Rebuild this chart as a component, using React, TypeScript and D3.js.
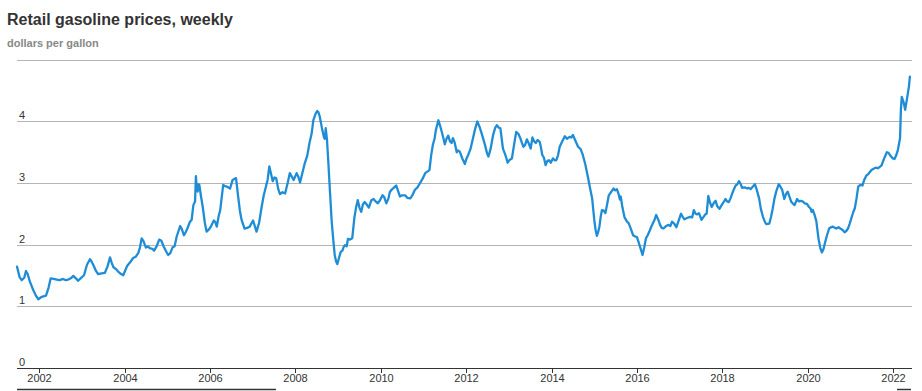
import React from 'react';
import * as d3 from 'd3';

// weekly readings, as decimal years
const dates = [
  2001.48, 2001.54, 2001.59, 2001.65, 2001.69, 2001.73, 2001.78, 2001.86, 2001.93, 2001.98,
  2002.06, 2002.16, 2002.22, 2002.27, 2002.34, 2002.41, 2002.48, 2002.56, 2002.62, 2002.68,
  2002.74, 2002.80, 2002.86, 2002.91, 2002.97, 2003.05, 2003.12, 2003.19, 2003.23, 2003.28,
  2003.33, 2003.38, 2003.46, 2003.54, 2003.60, 2003.66, 2003.70, 2003.74, 2003.80, 2003.85,
  2003.92, 2003.97, 2004.06, 2004.13, 2004.20, 2004.26, 2004.32, 2004.36, 2004.40, 2004.44,
  2004.50, 2004.55, 2004.59, 2004.65, 2004.69, 2004.75, 2004.81, 2004.86, 2004.92, 2004.97,
  2005.02, 2005.07, 2005.12, 2005.17, 2005.22, 2005.30, 2005.34, 2005.39, 2005.43, 2005.47,
  2005.53, 2005.57, 2005.61, 2005.65, 2005.67, 2005.69, 2005.71, 2005.73, 2005.75, 2005.79,
  2005.83, 2005.88, 2005.92, 2005.97, 2006.02, 2006.06, 2006.09, 2006.12, 2006.16, 2006.20,
  2006.24, 2006.28, 2006.31, 2006.35, 2006.40, 2006.47, 2006.53, 2006.61, 2006.66, 2006.70,
  2006.74, 2006.81, 2006.87, 2006.93, 2007.01, 2007.05, 2007.09, 2007.15, 2007.21, 2007.26,
  2007.31, 2007.35, 2007.39, 2007.43, 2007.47, 2007.51, 2007.55, 2007.60, 2007.64, 2007.70,
  2007.76, 2007.82, 2007.87, 2007.92, 2007.96, 2008.03, 2008.07, 2008.11, 2008.16, 2008.22,
  2008.28, 2008.33, 2008.38, 2008.42, 2008.47, 2008.51, 2008.54, 2008.57, 2008.62, 2008.67,
  2008.69, 2008.71, 2008.74, 2008.77, 2008.81, 2008.85, 2008.89, 2008.92, 2008.95, 2008.98,
  2009.02, 2009.06, 2009.10, 2009.13, 2009.16, 2009.20, 2009.23, 2009.28, 2009.33, 2009.38,
  2009.42, 2009.46, 2009.50, 2009.54, 2009.58, 2009.62, 2009.67, 2009.72, 2009.78, 2009.83,
  2009.88, 2009.93, 2009.98, 2010.04, 2010.08, 2010.13, 2010.18, 2010.21, 2010.25, 2010.30,
  2010.36, 2010.40, 2010.45, 2010.50, 2010.57, 2010.62, 2010.69, 2010.74, 2010.80, 2010.86,
  2010.92, 2010.98, 2011.04, 2011.10, 2011.14, 2011.18, 2011.22, 2011.26, 2011.29, 2011.35,
  2011.39, 2011.43, 2011.47, 2011.50, 2011.54, 2011.58, 2011.62, 2011.66, 2011.69, 2011.73,
  2011.78, 2011.81, 2011.85, 2011.91, 2011.97, 2012.01, 2012.05, 2012.10, 2012.15, 2012.21,
  2012.26, 2012.31, 2012.36, 2012.44, 2012.49, 2012.52, 2012.57, 2012.63, 2012.68, 2012.72,
  2012.76, 2012.80, 2012.86, 2012.92, 2012.97, 2013.02, 2013.07, 2013.12, 2013.17, 2013.22,
  2013.26, 2013.30, 2013.34, 2013.38, 2013.42, 2013.46, 2013.51, 2013.55, 2013.59, 2013.63,
  2013.67, 2013.72, 2013.75, 2013.78, 2013.82, 2013.86, 2013.90, 2013.94, 2013.98, 2014.03,
  2014.07, 2014.11, 2014.15, 2014.19, 2014.25, 2014.31, 2014.36, 2014.42, 2014.46, 2014.50,
  2014.55, 2014.62, 2014.68, 2014.73, 2014.79, 2014.85, 2014.90, 2014.95, 2015.00, 2015.03,
  2015.06, 2015.09, 2015.12, 2015.15, 2015.18, 2015.22, 2015.26, 2015.30, 2015.34, 2015.40,
  2015.45, 2015.49, 2015.53, 2015.57, 2015.60, 2015.62, 2015.66, 2015.71, 2015.76, 2015.81,
  2015.86, 2015.91, 2015.96, 2016.00, 2016.06, 2016.10, 2016.13, 2016.17, 2016.21, 2016.25,
  2016.29, 2016.33, 2016.37, 2016.41, 2016.45, 2016.50, 2016.54, 2016.58, 2016.62, 2016.68,
  2016.74, 2016.78, 2016.82, 2016.87, 2016.92, 2016.97, 2017.03, 2017.07, 2017.11, 2017.17,
  2017.24, 2017.29, 2017.33, 2017.37, 2017.41, 2017.45, 2017.51, 2017.55, 2017.60, 2017.63,
  2017.67, 2017.71, 2017.75, 2017.80, 2017.84, 2017.88, 2017.93, 2018.00, 2018.04, 2018.07,
  2018.11, 2018.15, 2018.19, 2018.23, 2018.27, 2018.31, 2018.35, 2018.39, 2018.43, 2018.46,
  2018.52, 2018.58, 2018.62, 2018.66, 2018.71, 2018.76, 2018.80, 2018.86, 2018.90, 2018.95,
  2019.00, 2019.03, 2019.10, 2019.14, 2019.18, 2019.22, 2019.26, 2019.32, 2019.36, 2019.40,
  2019.45, 2019.49, 2019.53, 2019.57, 2019.61, 2019.66, 2019.69, 2019.75, 2019.79, 2019.83,
  2019.88, 2019.93, 2019.98, 2020.03, 2020.07, 2020.09, 2020.12, 2020.16, 2020.20, 2020.25,
  2020.29, 2020.33, 2020.37, 2020.40, 2020.45, 2020.50, 2020.54, 2020.59, 2020.63, 2020.67,
  2020.72, 2020.76, 2020.81, 2020.86, 2020.90, 2020.94, 2020.98, 2021.02, 2021.06, 2021.10,
  2021.14, 2021.18, 2021.23, 2021.28, 2021.32, 2021.37, 2021.42, 2021.49, 2021.54, 2021.59,
  2021.64, 2021.70, 2021.73, 2021.76, 2021.80, 2021.85, 2021.89, 2021.95, 2021.99, 2022.03,
  2022.07, 2022.11, 2022.16, 2022.18, 2022.20, 2022.24, 2022.28, 2022.33, 2022.37, 2022.39,
];

// dollars per gallon
const prices = [
  1.64, 1.47, 1.42, 1.46, 1.57, 1.52, 1.40, 1.26, 1.16, 1.11,
  1.15, 1.17, 1.30, 1.45, 1.44, 1.43, 1.42, 1.44, 1.42, 1.43,
  1.45, 1.49, 1.45, 1.41, 1.45, 1.50, 1.67, 1.76, 1.72, 1.65,
  1.57, 1.52, 1.53, 1.54, 1.64, 1.79, 1.70, 1.63, 1.60, 1.56,
  1.52, 1.50, 1.65, 1.71, 1.78, 1.80, 1.86, 1.95, 2.10, 2.06,
  1.95, 1.97, 1.94, 1.93, 1.90, 1.97, 2.08, 2.06, 1.96, 1.89,
  1.83, 1.86, 1.95, 1.97, 2.13, 2.30, 2.25, 2.15, 2.20, 2.26,
  2.37, 2.40, 2.64, 2.70, 3.11, 2.90, 2.86, 2.98, 2.97, 2.78,
  2.61, 2.35, 2.21, 2.24, 2.29, 2.35, 2.39, 2.37, 2.29, 2.45,
  2.56, 2.80, 2.97, 2.95, 2.94, 2.91, 3.05, 3.08, 2.78, 2.55,
  2.40, 2.26, 2.27, 2.29, 2.39, 2.30, 2.21, 2.35, 2.61, 2.80,
  2.94, 3.05, 3.27, 3.15, 3.03, 3.09, 3.08, 2.90, 2.82, 2.85,
  2.83, 3.00, 3.16, 3.10, 3.05, 3.16, 3.10, 3.01, 3.15, 3.32,
  3.45, 3.65, 3.80, 4.02, 4.12, 4.17, 4.15, 4.08, 3.90, 3.74,
  3.72, 3.89, 3.70, 3.35, 2.85, 2.37, 2.05, 1.83, 1.73, 1.68,
  1.78, 1.88, 1.90, 1.96, 1.99, 1.97, 2.09, 2.08, 2.10, 2.43,
  2.60, 2.72, 2.60, 2.53, 2.65, 2.69, 2.65, 2.60, 2.72, 2.74,
  2.70, 2.67, 2.72, 2.80, 2.77, 2.67, 2.75, 2.85, 2.89, 2.92,
  2.96, 2.88, 2.78, 2.80, 2.80, 2.76, 2.75, 2.80, 2.89, 2.93,
  3.00, 3.07, 3.16, 3.19, 3.21, 3.45, 3.62, 3.72, 3.86, 4.02,
  3.93, 3.83, 3.72, 3.63, 3.72, 3.77, 3.68, 3.65, 3.73, 3.66,
  3.50, 3.53, 3.51, 3.40, 3.31, 3.40, 3.46, 3.55, 3.70, 3.88,
  4.00, 3.92, 3.81, 3.62, 3.48, 3.43, 3.55, 3.78, 3.90, 3.94,
  3.90, 3.89, 3.56, 3.45, 3.33, 3.38, 3.40, 3.62, 3.83, 3.80,
  3.74, 3.66, 3.59, 3.62, 3.71, 3.65, 3.56, 3.74, 3.68, 3.65,
  3.70, 3.67, 3.58, 3.46, 3.41, 3.29, 3.36, 3.37, 3.33, 3.40,
  3.37, 3.37, 3.45, 3.59, 3.68, 3.76, 3.72, 3.75, 3.74, 3.78,
  3.70, 3.59, 3.55, 3.46, 3.30, 3.10, 2.92, 2.75, 2.40, 2.24,
  2.14, 2.20, 2.29, 2.45, 2.56, 2.55, 2.51, 2.65, 2.80, 2.86,
  2.91, 2.88, 2.90, 2.82, 2.73, 2.78, 2.60, 2.44, 2.38, 2.34,
  2.25, 2.15, 2.13, 2.12, 1.99, 1.90, 1.83, 1.95, 2.10, 2.15,
  2.21, 2.28, 2.34, 2.40, 2.48, 2.40, 2.32, 2.27, 2.26, 2.30,
  2.32, 2.30, 2.37, 2.34, 2.28, 2.38, 2.50, 2.45, 2.41, 2.43,
  2.45, 2.44, 2.56, 2.50, 2.49, 2.51, 2.40, 2.44, 2.49, 2.50,
  2.79, 2.68, 2.61, 2.68, 2.71, 2.62, 2.58, 2.66, 2.70, 2.74,
  2.70, 2.69, 2.75, 2.83, 2.90, 2.96, 2.98, 3.03, 2.98, 2.92,
  2.93, 2.91, 2.92, 2.90, 2.94, 2.98, 2.90, 2.75, 2.58, 2.45,
  2.36, 2.33, 2.34, 2.45, 2.59, 2.75, 2.86, 2.98, 2.94, 2.89,
  2.74, 2.82, 2.86, 2.78, 2.70, 2.66, 2.64, 2.74, 2.70, 2.71,
  2.70, 2.67, 2.66, 2.61, 2.58, 2.53, 2.56, 2.48, 2.38, 2.10,
  1.95, 1.87, 1.93, 2.02, 2.15, 2.26, 2.28, 2.29, 2.27, 2.26,
  2.28, 2.26, 2.24, 2.20, 2.22, 2.26, 2.34, 2.43, 2.52, 2.59,
  2.75, 2.94, 2.97, 2.96, 3.05, 3.12, 3.15, 3.21, 3.23, 3.25,
  3.24, 3.27, 3.29, 3.35, 3.42, 3.50, 3.49, 3.43, 3.40, 3.39,
  3.45, 3.54, 3.73, 4.20, 4.40, 4.32, 4.19, 4.40, 4.58, 4.73,
];

const yTicks = [0, 1, 2, 3, 4, 5];
const yLabels = ['0', '1', '2', '3', '4', ''];

const title = 'Retail gasoline prices, weekly';
const subtitle = 'dollars per gallon';

function decToDate(v: number) {
  const yr = Math.floor(v);
  const start = Date.UTC(yr, 0, 1);
  const end = Date.UTC(yr + 1, 0, 1);
  return new Date(start + (v - yr) * (end - start));
}

export default function App() {
  const width = 922, height = 391;
  const left = 17, right = 912;
  const font = "'Liberation Sans', Arial, sans-serif";

  const x = d3.scaleUtc()
    .domain([decToDate(2001.48), decToDate(2022.44)])
    .range([left, right]);
  const y = d3.scaleLinear().domain([0, 5]).range([367.5, 60]);

  const data = dates.map((d, i) => ({ date: decToDate(d), value: prices[i] }));
  const line = d3.line<{ date: Date; value: number }>()
    .x(d => x(d.date))
    .y(d => y(d.value));

  const xTicks = d3.utcYear.every(2)!.range(decToDate(2002), decToDate(2022.5));
  const fmt = d3.utcFormat('%Y');
  const crisp = (v: number) => Math.round(v) + 0.5;

  return (
    <svg width={width} height={height} style={{ position: 'absolute', left: 0, top: 0 }}
      fontFamily={font}>
      <rect width={width} height={height} fill="#fff" />
      <text x={7} y={25} fontSize={16} fontWeight="bold" fill="#333">{title}</text>
      <text x={7} y={47} fontSize={11} fontWeight="bold" fill="#888">{subtitle}</text>

      {/* gridlines */}
      {yTicks.filter(t => t > 0).map(t => (
        <line key={t} x1={left} x2={right} y1={crisp(y(t))} y2={crisp(y(t))}
          stroke="#b5b5b5" strokeWidth={1} />
      ))}
      {yTicks.map((t, i) => (
        <text key={'l' + t} x={19} y={Math.round(y(t)) - 2} fontSize={11} fill="#333">
          {yLabels[i]}
        </text>
      ))}

      <path d={line(data) || ''} fill="none" stroke="#1f8dd6" strokeWidth={2.3}
        strokeLinejoin="round" strokeLinecap="round" />

      {/* x axis */}
      <line x1={left} x2={right} y1={crisp(y(0))} y2={crisp(y(0))} stroke="#333" strokeWidth={1} />
      {xTicks.map(t => (
        <g key={t.toISOString()} transform={`translate(${crisp(x(t))},0)`}>
          <line y1={368} y2={373} stroke="#333" />
          <text y={382} textAnchor="middle" fontSize={11} fill="#333">{fmt(t)}</text>
        </g>
      ))}

      {/* navigator edge, cut off at the bottom */}
      <line x1={17} x2={276} y1={389.5} y2={389.5} stroke="#333" strokeWidth={1.5} />
      <line x1={897} x2={911} y1={389.5} y2={389.5} stroke="#333" strokeWidth={1.5} />
    </svg>
  );
}
